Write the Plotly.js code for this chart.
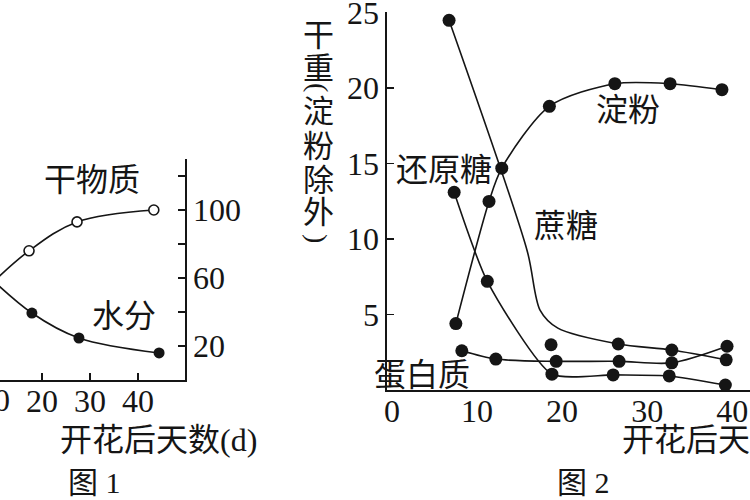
<!DOCTYPE html>
<html>
<head>
<meta charset="utf-8">
<script src="https://cdn.plot.ly/plotly-3.0.1.min.js"></script>
<style>
  html, body { margin: 0; padding: 0; background: #fff; }
  #chart { width: 750px; height: 500px; }
</style>
</head>
<body>
<div id="chart"></div>
<script>
/* 图1: 开花后天数 vs 干物质 / 水分 (left part cut off) */
var dryDays = [7, 17.3, 27.3, 43.3];
var dryMatter = [50, 76, 93, 100];
var waterDays = [7, 17.9, 27.7, 44.4];
var water = [66, 39.4, 24.7, 15.9];

/* 图2: 干重 (淀粉除外) */
var starchDays = [7.5, 11.4, 12.9, 18.5, 26.2, 32.7, 38.8];
var starch = [4.4, 12.5, 14.7, 18.8, 20.3, 20.3, 19.9];
var reducingDays = [7.3, 11.2, 18.8, 26.0, 32.6, 39.2];
var reducing = [13.1, 7.2, 1.05, 1.0, 0.93, 0.33];
var proteinDays = [8.2, 12.2, 19.3, 26.7, 32.9, 39.4];
var protein = [2.6, 2.05, 1.9, 1.9, 1.8, 2.9];
// measured sucrose points
var sucroseDays = [6.7, 18.7, 26.6, 32.9, 39.3];
var sucrose = [24.5, 3.0, 3.05, 2.65, 2.0];
// the drawn sucrose curve
var sucroseCurveDays = [6.7, 15.9, 17.4, 19.5, 26.6, 32.9, 39.3];
var sucroseCurve = [24.5, 9.2, 5.3, 4.1, 3.05, 2.65, 2.0];

var ink = '#151515';
var serif = 'Liberation Serif, Noto Sans CJK SC, serif';

function line(x, y, xa, ya, smooth) {
    return {
        x: x, y: y, xaxis: xa, yaxis: ya,
        mode: 'lines', type: 'scatter',
        line: { color: ink, width: 1.6, shape: 'spline', smoothing: smooth },
        hoverinfo: 'skip', showlegend: false
    };
}
function dots(x, y, xa, ya, size, open) {
    return {
        x: x, y: y, xaxis: xa, yaxis: ya,
        mode: 'markers', type: 'scatter',
        marker: {
            size: size, color: open ? '#fff' : ink,
            line: { color: ink, width: open ? 1.6 : 0 }
        },
        showlegend: false
    };
}

var data = [
    line(dryDays, dryMatter, 'x', 'y', 1),
    dots(dryDays, dryMatter, 'x', 'y', 10, true),
    line(waterDays, water, 'x', 'y', 1),
    dots(waterDays, water, 'x', 'y', 11, false),

    line(starchDays, starch, 'x2', 'y2', 0.8),
    dots(starchDays, starch, 'x2', 'y2', 13, false),
    line(reducingDays, reducing, 'x2', 'y2', 0.6),
    dots(reducingDays, reducing, 'x2', 'y2', 13, false),
    line(proteinDays, protein, 'x2', 'y2', 0.8),
    dots(proteinDays, protein, 'x2', 'y2', 13, false),
    line(sucroseCurveDays, sucroseCurve, 'x2', 'y2', 0.8),
    dots(sucroseDays, sucrose, 'x2', 'y2', 13, false)
];

var axisBase = {
    showgrid: false, zeroline: false, showline: true,
    linecolor: ink, linewidth: 1.6,
    tickcolor: ink, tickwidth: 1.6,
    tickfont: { family: serif, size: 32, color: ink },
    ticklabeloverflow: 'allow',
    fixedrange: true
};

function txt(s, px, py, size, anchor, angle) {
    return {
        text: s, xref: 'paper', yref: 'paper',
        x: px / 750, y: 1 - py / 500,
        xanchor: anchor || 'center', yanchor: 'middle',
        textangle: angle || 0,
        showarrow: false,
        font: { family: serif, size: size || 32, color: ink }
    };
}

var annotations = [
    txt('干物质', 92, 180),
    txt('水分', 124, 316),
    txt('0', 2, 400),
    txt('开花后天数(d)', 158, 440),
    txt('图 1', 94, 482, 30),
    txt('淀粉', 628, 110),
    txt('还原糖', 444, 170),
    txt('蔗糖', 566, 226),
    txt('蛋白质', 422, 375),
    txt('开花后天数(d)', 620, 440, 32, 'left'),
    txt('图 2', 583, 482, 30)
];
// vertical y title of 图2; the brackets are turned on their side
var yTitle = ['干', '重', '(', '淀', '粉', '除', '外', ')'];
var yTitlePos = [36, 68, 87, 112, 146, 180, 213, 238];
for (var i = 0; i < yTitle.length; i++) {
    var bracket = yTitle[i] === '(' || yTitle[i] === ')';
    annotations.push(txt(yTitle[i], 318, yTitlePos[i], bracket ? 28 : 31, 'center', bracket ? 90 : 0));
}

var layout = {
    width: 750, height: 500,
    margin: { l: 0, r: 0, t: 0, b: 0 },
    paper_bgcolor: '#fff', plot_bgcolor: '#fff',
    showlegend: false,
    xaxis: Object.assign({}, axisBase, {
        domain: [0, 185 / 750], range: [11.25, 49.8], anchor: 'y',
        ticks: 'inside', ticklen: 7, ticklabelstandoff: -8,
        tickvals: [10, 20, 30, 40]
    }),
    yaxis: Object.assign({}, axisBase, {
        domain: [0.24, 0.682], range: [0, 130], anchor: 'x', side: 'right',
        ticks: 'inside', ticklen: 7,
        tickvals: [20, 40, 60, 80, 100, 120, 130],
        ticktext: ['20', '', '60', '', '100', '', '']
    }),
    xaxis2: Object.assign({}, axisBase, {
        domain: [387 / 750, 1], range: [-0.6, 42.1], anchor: 'y2',
        ticks: '', ticklabelstandoff: -8,
        tickvals: [0, 10, 20, 30, 40]
    }),
    yaxis2: Object.assign({}, axisBase, {
        domain: [0.22, 0.976], range: [0, 25.05], anchor: 'x2',
        ticks: 'inside', ticklen: 7,
        tickvals: [5, 10, 15, 20, 25]
    }),
    yaxis3: Object.assign({}, axisBase, {
        overlaying: 'y2', anchor: 'x2', side: 'right',
        range: [0, 25.05], showline: false, showticklabels: false,
        ticks: 'inside', ticklen: 8,
        tickvals: [5, 10, 15, 20, 25]
    }),
    annotations: annotations
};

Plotly.newPlot('chart', data, layout, { displayModeBar: false, staticPlot: true });
</script>
</body>
</html>
